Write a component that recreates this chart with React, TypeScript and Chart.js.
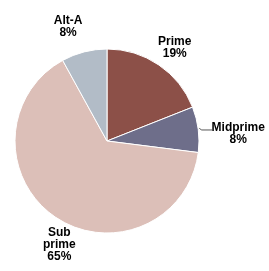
import React, { useEffect, useRef } from "react";
import { Chart, registerables } from "chart.js";

Chart.register(...registerables);

const categories: string[][] = [["Prime"], ["Midprime"], ["Sub", "prime"], ["Alt-A"]];
const values: number[] = [19, 8, 65, 8];
const colors: string[] = ["#8C5048", "#6E6E8A", "#DCBFB8", "#B2BCC7"];
// label offsets from the outer midpoint of each slice (layout only)
const labelOffsets: [number, number][] = [[16, -17], [40, 4], [4, 28], [-16, -25]];
const leaderLines: boolean[] = [false, true, false, false];

const labelPlugin = {
  id: "outerLabels",
  afterDatasetsDraw(chart: any) {
    const ctx = chart.ctx;
    const meta = chart.getDatasetMeta(0);
    const data = chart.data.datasets[0].data as number[];
    const total = data.reduce((a, b) => a + b, 0);
    ctx.save();
    ctx.font = "bold 12px 'Liberation Sans', Arial, sans-serif";
    ctx.fillStyle = "#000";
    ctx.textAlign = "center";
    ctx.textBaseline = "middle";
    meta.data.forEach((arc: any, i: number) => {
      const { x, y, startAngle, endAngle, outerRadius } = arc.getProps(
        ["x", "y", "startAngle", "endAngle", "outerRadius"],
        true
      );
      const mid = (startAngle + endAngle) / 2;
      const ex = x + Math.cos(mid) * outerRadius;
      const ey = y + Math.sin(mid) * outerRadius;
      const [dx, dy] = labelOffsets[i];
      const pct = Math.round((data[i] / total) * 100) + "%";
      const lines = [...categories[i], pct];
      const lh = 12;
      const cx = ex + dx;
      const cy = ey + dy;
      lines.forEach((t, k) => {
        ctx.fillText(t, cx, cy + (k - (lines.length - 1) / 2) * lh);
      });
      if (leaderLines[i]) {
        ctx.strokeStyle = "#555";
        ctx.lineWidth = 1;
        ctx.beginPath();
        ctx.moveTo(ex + 1, ey - 1.5);
        ctx.lineTo(ex + 3, ey + 0.5);
        ctx.lineTo(ex + 14, ey + 0.5);
        ctx.stroke();
      }
    });
    ctx.restore();
  },
};

export default function App() {
  const ref = useRef<HTMLCanvasElement | null>(null);
  useEffect(() => {
    if (!ref.current) return;
    const chart = new Chart(ref.current, {
      type: "pie",
      data: {
        labels: categories.map((c) => c.join(" ")),
        datasets: [
          {
            data: values,
            backgroundColor: colors,
            borderColor: "#ffffff",
            borderWidth: 1,
          },
        ],
      },
      options: {
        responsive: false,
        animation: false,
        layout: { padding: { left: 14.5, top: 48.5, right: 69.5, bottom: 37.5 } },
        plugins: {
          legend: { display: false },
          tooltip: { enabled: false },
        },
      },
      plugins: [labelPlugin],
    });
    return () => chart.destroy();
  }, []);
  return (
    <div style={{ position: "fixed", left: 0, top: 0, width: 269, height: 271, background: "#fff" }}>
      <canvas ref={ref} width={269} height={271} />
    </div>
  );
}
